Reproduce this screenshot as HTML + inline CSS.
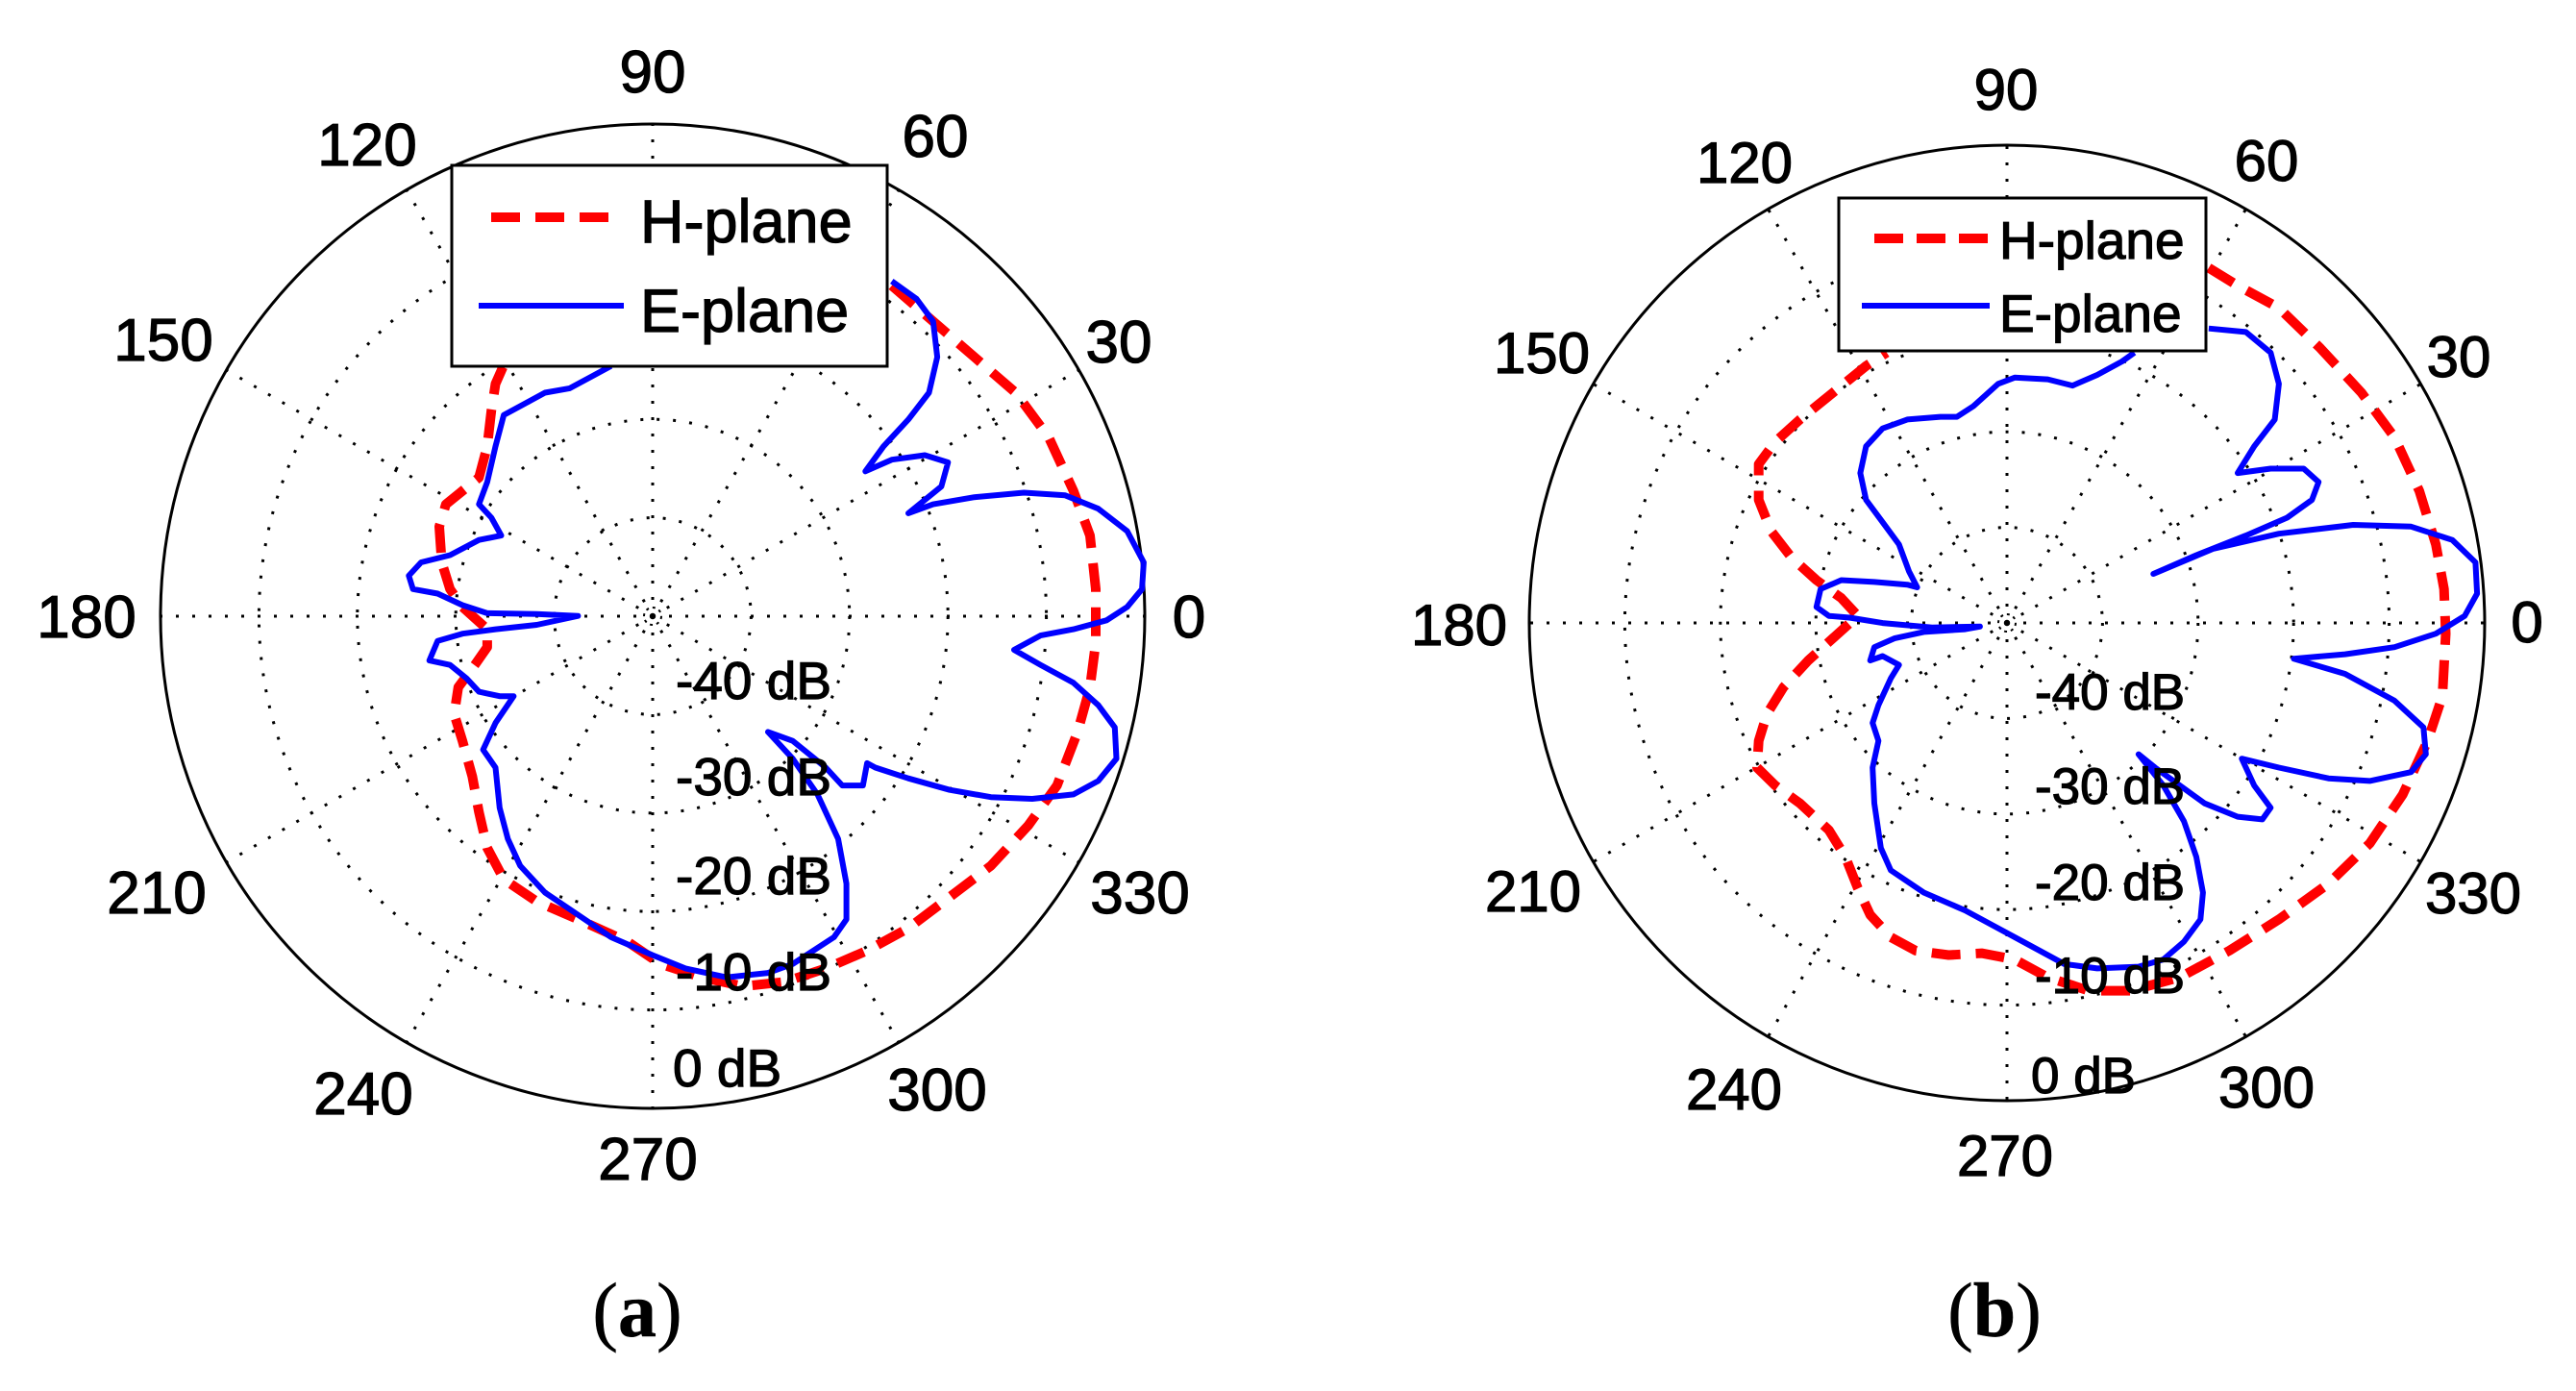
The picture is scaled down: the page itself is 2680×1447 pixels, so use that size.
<!DOCTYPE html>
<html><head><meta charset="utf-8"><style>
html,body{margin:0;padding:0;background:#fff;}
svg{display:block;}
text{font-family:"Liberation Sans",Arial,sans-serif;fill:#000;stroke:#000;stroke-width:1.2px;}
</style></head><body>
<svg id="s" width="2680" height="1447" viewBox="0 0 2680 1447" xmlns="http://www.w3.org/2000/svg">
<rect width="2680" height="1447" fill="#fff"/>
<g id="grid"></g>
<g id="curves"></g>
<g id="labels"></g>
</svg>
<script>
var NS="http://www.w3.org/2000/svg";
function el(parent,tag,attrs,txt){var e=document.createElementNS(NS,tag);for(var k in attrs)e.setAttribute(k,attrs[k]);if(txt!==undefined)e.textContent=txt;document.getElementById(parent).appendChild(e);return e;}
function grid(cx,cy,r){
  for(var i=1;i<=4;i++){el("grid","circle",{cx:cx,cy:cy,r:r*i/5,fill:"none",stroke:"#000","stroke-width":3,"stroke-dasharray":"3 14"});}
  el("grid","circle",{cx:cx,cy:cy,r:9,fill:"none",stroke:"#000","stroke-width":2,"stroke-dasharray":"3 4"});
  for(var a=0;a<360;a+=30){var t=a*Math.PI/180;el("grid","line",{x1:cx,y1:cy,x2:cx+r*Math.cos(t),y2:cy-r*Math.sin(t),stroke:"#000","stroke-width":3,"stroke-dasharray":"3 14"});}
  el("grid","circle",{cx:cx,cy:cy,r:r,fill:"none",stroke:"#000","stroke-width":3});
}
grid(679,641,512);
grid(2088,648,497);
function path(pts,ox,color,w,dash){
  var d="";for(var i=0;i<pts.length;i+=2){var x=ox+pts[i]/1.164,y=pts[i+1]/1.077;d+=(i?"L":"M")+x.toFixed(1)+" "+y.toFixed(1);}
  var a={d:d,fill:"none",stroke:color,"stroke-width":w,"stroke-linejoin":"round","stroke-linecap":"butt"};if(dash)a["stroke-dasharray"]=dash;el("curves","path",a);
}
var redA=[1080,320,1130,360,1180,400,1230,440,1270,490,1300,550,1320,600,1327,660,1327,720,1320,770,1305,820,1280,880,1245,925,1200,970,1150,1005,1100,1040,1050,1065,1000,1085,950,1100,900,1105,850,1095,800,1080,760,1055,700,1030,650,1010,610,985,590,950,580,910,572,870,560,830,550,800,555,770,575,745,590,725,590,705,560,680,545,660,535,630,532,590,540,565,560,550,580,535,590,500,595,460,600,430,612,405];
var blueA=[1080,315,1110,335,1130,360,1135,400,1125,440,1100,470,1070,500,1048,528,1080,515,1120,510,1148,518,1140,545,1120,560,1100,575,1130,565,1180,557,1240,552,1290,555,1330,570,1365,595,1385,630,1383,660,1365,680,1340,695,1300,705,1260,712,1228,728,1260,745,1300,765,1330,790,1350,815,1352,850,1330,875,1300,890,1250,895,1200,893,1150,885,1100,872,1060,860,1050,855,1045,880,1020,880,1000,860,960,830,930,820,960,850,990,890,1015,940,1025,990,1025,1030,1010,1050,985,1065,960,1080,930,1090,880,1095,830,1085,790,1070,740,1050,700,1025,660,1000,630,970,615,940,605,905,600,860,585,840,600,810,622,780,605,780,580,775,565,760,545,745,520,740,530,718,560,710,600,705,650,700,700,690,650,688,590,687,560,678,530,665,500,660,495,645,510,630,545,622,580,605,607,600,595,580,580,565,590,540,600,500,610,465,630,455,660,440,690,435,720,420,740,410];
var redB=[1115,300,1150,320,1200,345,1250,390,1300,440,1340,490,1370,550,1390,610,1400,660,1402,710,1398,780,1380,830,1350,890,1310,945,1260,990,1200,1030,1140,1065,1080,1095,1020,1110,970,1110,920,1095,880,1075,840,1068,800,1070,760,1065,730,1050,705,1025,690,995,675,960,655,930,620,900,590,880,568,860,570,830,580,800,600,770,630,740,660,715,690,690,670,670,640,650,610,625,585,595,570,560,570,520,590,495,620,470,660,440,700,410,725,395];
var blueB=[1115,368,1160,372,1190,395,1200,430,1195,470,1170,500,1150,530,1190,525,1230,525,1248,540,1240,560,1210,580,1160,600,1100,622,1048,643,1120,615,1200,598,1290,588,1360,590,1410,605,1438,630,1440,665,1425,690,1390,710,1340,725,1280,733,1218,738,1280,755,1340,785,1375,815,1378,845,1360,865,1310,875,1260,872,1200,860,1155,850,1170,880,1190,905,1180,918,1150,915,1110,900,1080,880,1050,860,1030,845,1060,880,1085,920,1100,960,1108,1000,1105,1030,1085,1055,1060,1075,1030,1083,980,1085,940,1080,900,1060,860,1040,820,1020,770,1000,730,975,718,950,710,900,708,860,715,830,708,810,715,790,730,760,740,745,720,735,705,740,710,725,735,715,770,708,820,705,838,702,780,703,720,698,680,692,655,690,640,680,645,660,670,650,710,652,750,655,762,658,752,640,740,610,720,585,700,560,693,530,700,500,720,480,750,470,790,467,810,467,830,455,860,430,880,423,920,425,950,432,980,420,1010,405,1025,395];
path(redA,0,"#ff0000",10,"30 16");
path(blueA,0,"#0000ff",6);
path(redB,1340,"#ff0000",10,"30 16");
path(blueB,1340,"#0000ff",6);
function txt(x,y,s,fs,anchor){el("labels","text",{x:x,y:y,"font-size":fs,"text-anchor":anchor||"middle"},s);}
var la=[["90",679,74],["60",973,141],["30",1164,355],["0",1237,641],["330",1186,928],["300",975,1133],["270",674,1205],["240",378,1137],["210",163,928],["180",90,641],["150",170,353],["120",382,150]];
la.forEach(function(l){txt(l[1],l[2]+22,l[0],62);});
var lb=[["90",2087,93],["60",2358,167],["30",2558,371],["0",2629,647],["330",2573,929],["300",2358,1131],["270",2086,1202],["240",1804,1133],["210",1595,927],["180",1518,650],["150",1604,367],["120",1815,169]];
lb.forEach(function(l){txt(l[1],l[2]+21,l[0],60);});
var dba=[["-40 dB",703,727],["-30 dB",703,827],["-20 dB",703,930],["-10 dB",703,1030],["0 dB",700,1130]];
dba.forEach(function(l){txt(l[1],l[2],l[0],55,"start");});
var dbb=[["-40 dB",2117,738],["-30 dB",2117,836],["-20 dB",2117,936],["-10 dB",2117,1033],["0 dB",2113,1137]];
dbb.forEach(function(l){txt(l[1],l[2],l[0],53,"start");});
el("labels","rect",{x:470,y:172,width:453,height:209,fill:"#fff",stroke:"#000","stroke-width":3});
el("labels","line",{x1:511,y1:226,x2:640,y2:226,stroke:"#ff0000","stroke-width":10,"stroke-dasharray":"30 16"});
el("labels","line",{x1:498,y1:318,x2:649,y2:318,stroke:"#0000ff","stroke-width":6});
txt(666,252,"H-plane",63,"start");txt(666,345,"E-plane",63,"start");
el("labels","rect",{x:1913,y:206,width:382,height:159,fill:"#fff",stroke:"#000","stroke-width":3});
el("labels","line",{x1:1950,y1:248,x2:2070,y2:248,stroke:"#ff0000","stroke-width":10,"stroke-dasharray":"30 14"});
el("labels","line",{x1:1937,y1:318,x2:2070,y2:318,stroke:"#0000ff","stroke-width":6});
txt(2080,269,"H-plane",55,"start");txt(2080,345,"E-plane",55,"start");
var c1=el("labels","text",{x:663,y:1390,"text-anchor":"middle",style:"font-family:'Liberation Serif',serif;font-size:80px;stroke-width:0.5px"});
c1.innerHTML='(<tspan font-weight="bold">a</tspan>)';
var c2=el("labels","text",{x:2075,y:1390,"text-anchor":"middle",style:"font-family:'Liberation Serif',serif;font-size:80px;stroke-width:0.5px"});
c2.innerHTML='(<tspan font-weight="bold">b</tspan>)';
</script>
</body></html>
